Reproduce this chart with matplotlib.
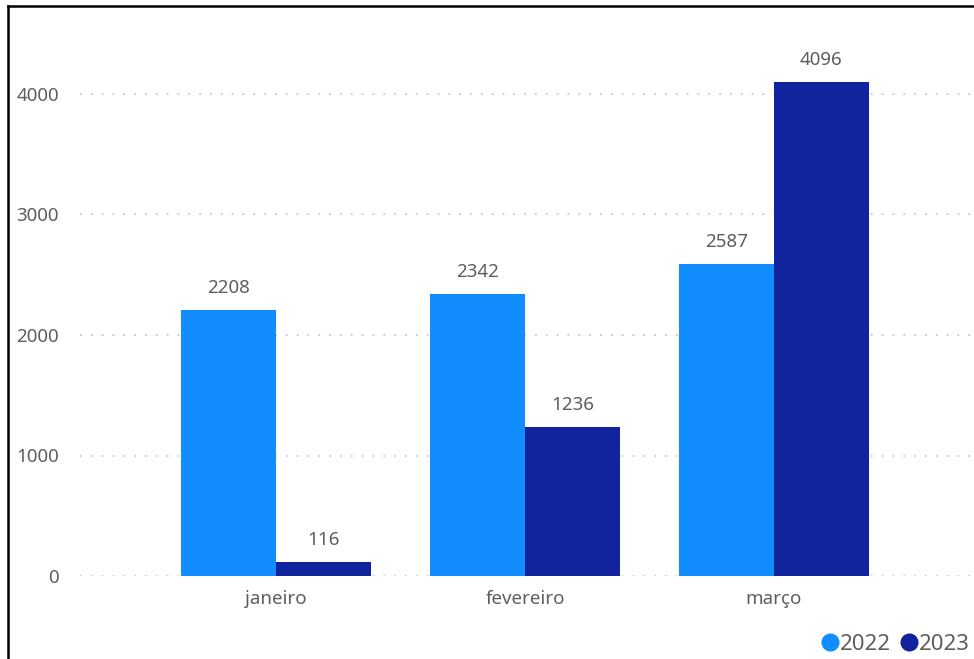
import matplotlib
matplotlib.use("Agg")
import matplotlib.pyplot as plt
import numpy as np
from matplotlib.lines import Line2D

months = ["janeiro", "fevereiro", "março"]
series_names = ["2022", "2023"]
values_2022 = [2208, 2342, 2587]
values_2023 = [116, 1236, 4096]
yticks = [0, 1000, 2000, 3000, 4000]

c2022 = "#118DFF"
c2023 = "#12239E"
txt = "#605E5C"

plt.rcParams['font.family'] = ['Noto Sans', 'DejaVu Sans']

W, H = 974, 659
fig = plt.figure(figsize=(W/100, H/100), dpi=100)
ax_left = 80 / W
ax_right = 973 / W
ybot = (H - 576) / H
ytop = (H - 45.8) / H
ax = fig.add_axes([ax_left, ybot, ax_right - ax_left, ytop - ybot])

x = np.arange(len(months))
bw = 0.38
b1 = ax.bar(x - bw/2, values_2022, bw, color=c2022, label=series_names[0], zorder=3)
b2 = ax.bar(x + bw/2, values_2023, bw, color=c2023, label=series_names[1], zorder=3)

for bars, vals in ((b1, values_2022), (b2, values_2023)):
    for r, v in zip(bars, vals):
        ax.annotate(f"{v}", (r.get_x() + r.get_width()/2, v), xytext=(0, 13),
                    textcoords="offset pixels", ha="center", va="bottom",
                    fontsize=13.5, color=txt)

ax.set_xlim(-0.787, 2.799)
ax.set_ylim(0, 4400)
ax.set_yticks(yticks)
ax.set_yticklabels([str(t) for t in yticks])
ax.set_xticks(x)
ax.set_xticklabels(months)
ax.tick_params(axis='both', length=0, colors=txt, labelsize=13.5)
ax.tick_params(axis='y', pad=15)
ax.tick_params(axis='x', pad=10)
for s in ax.spines.values():
    s.set_visible(False)
ax.grid(axis='y', linestyle=(0, (1, 5)), color="#C8C8C8", linewidth=1.3, zorder=0)
ax.set_axisbelow(True)

handles = [Line2D([], [], marker='o', linestyle='', markersize=12, color=c2022),
           Line2D([], [], marker='o', linestyle='', markersize=12, color=c2023)]
fig.legend(handles, series_names, loc='lower right', bbox_to_anchor=(1.0, 0.0),
           frameon=False, ncol=2, fontsize=16, handletextpad=-0.35, columnspacing=0.0,
           handlelength=1.6, labelcolor=txt, borderaxespad=0.0, borderpad=0.2)

# frame border on the left and top
fig.add_artist(Line2D([8/W, 8/W], [0, 1 - 6/H], color="black", linewidth=1.8))
fig.add_artist(Line2D([8/W, 1], [1 - 6/H, 1 - 6/H], color="black", linewidth=1.8))

fig.savefig("out.png", dpi=100)
